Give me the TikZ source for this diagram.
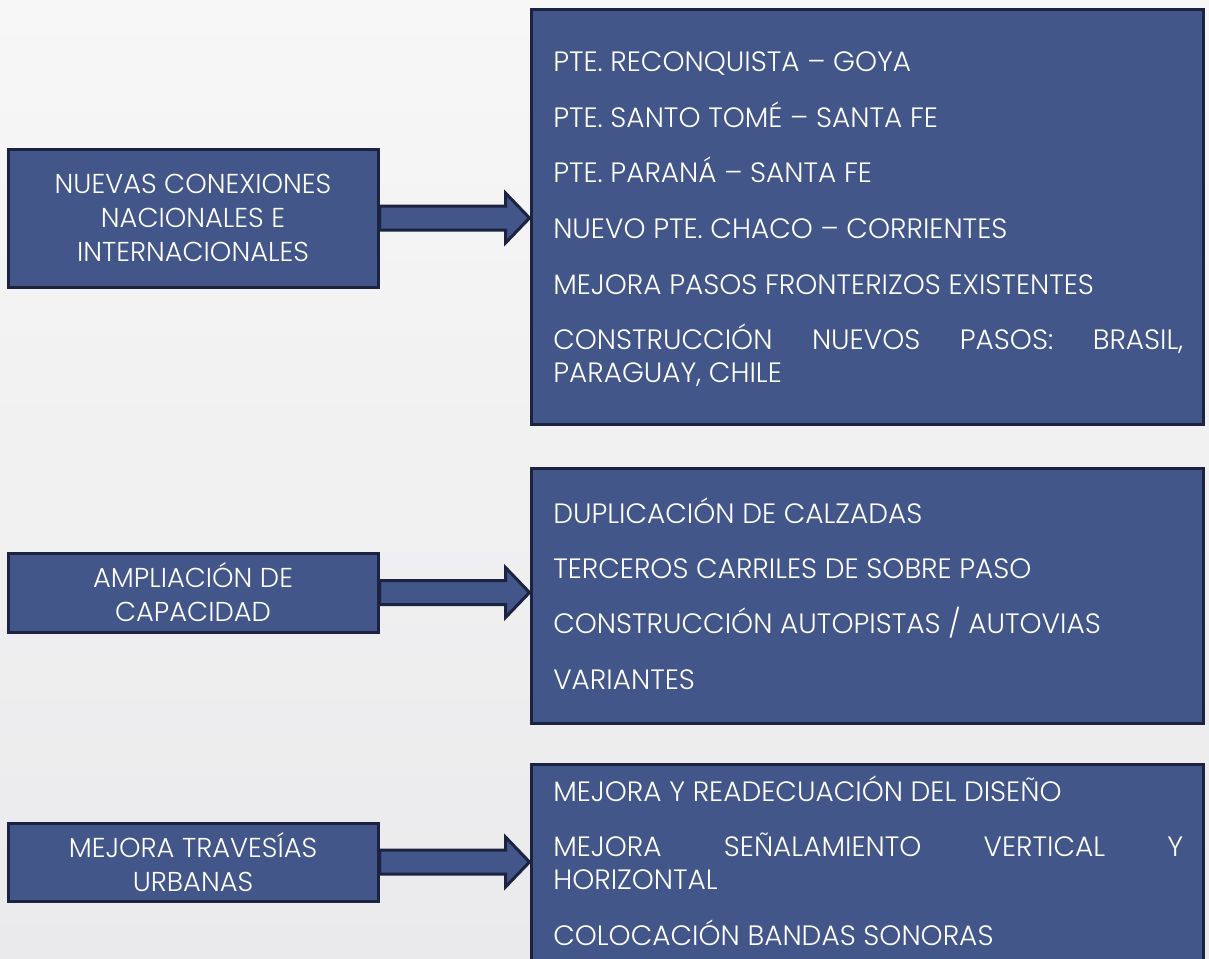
\documentclass[tikz,border=0pt]{standalone}
\usepackage{fontspec}
\IfFontExistsTF{Poppins Light}{\setmainfont{Poppins Light}}{\setmainfont{Poppins}}
\usetikzlibrary{calc}
\definecolor{boxfill}{HTML}{43568A}
\definecolor{boxline}{HTML}{1B2340}
\definecolor{bgtop}{HTML}{F7F7F7}
\definecolor{bgbot}{HTML}{EAEAEC}
\begin{document}
\begin{tikzpicture}[x=0.75pt,y=-0.75pt,
  bluebox/.style={draw=boxline,fill=boxfill,line width=2.25pt,rectangle,inner sep=0pt,text=white},
  leftbox/.style={bluebox,minimum width=277.5pt,align=center,font=\fontsize{20.5}{25.5}\selectfont},
  rightbox/.style={bluebox,minimum width=504pt},
  itemtext/.style={anchor=base west,text=white,inner sep=0pt,font=\fontsize{21}{25}\selectfont},
  blockarrow/.style={draw=boxline,fill=boxfill,line width=2.25pt,line join=miter}]
\fill[top color=bgtop,bottom color=bgbot] (0,0) rectangle (1209,958);
\useasboundingbox (0,0) rectangle (1209,958);
\begin{scope}
\clip (0,0) rectangle (1209,958);
% left boxes
\node[leftbox,minimum height=103.5pt] (l1) at (193,218) {NUEVAS CONEXIONES\\NACIONALES E\\INTERNACIONALES};
\node[leftbox,minimum height=59.25pt] (l2) at (193,592.5) {AMPLIACIÓN DE\\CAPACIDAD};
\node[leftbox,minimum height=58.5pt] (l3) at (193,862) {MEJORA TRAVESÍAS\\URBANAS};
% right boxes
\node[rightbox,minimum height=311.25pt] (r1) at (867,216.5) {};
\node[rightbox,minimum height=191.25pt] (r2) at (867,595.5) {};
\node[rightbox,minimum height=162pt] (r3) at (867,872) {};
% arrows
\foreach \l/\r in {l1/r1,l2/r2,l3/r3}{
  \draw[blockarrow] ($(\l.east)+(0,-12)$) -- ($(\r.west |- \l.east)+(-24,-12)$)
    -- ($(\r.west |- \l.east)+(-24,-25)$) -- (\r.west |- \l.east)
    -- ($(\r.west |- \l.east)+(-24,25)$) -- ($(\r.west |- \l.east)+(-24,12)$)
    -- ($(\l.east)+(0,12)$) -- cycle;
}
% items box 1
\node[itemtext] (a1) at (553,71) {PTE. RECONQUISTA – GOYA};
\node[itemtext] (a2) at (553,127) {PTE. SANTO TOMÉ – SANTA FE};
\node[itemtext] (a3) at (553,182) {PTE. PARANÁ – SANTA FE};
\node[itemtext] (a4) at (553,238) {NUEVO PTE. CHACO – CORRIENTES};
\node[itemtext] (a5) at (553,294) {MEJORA PASOS FRONTERIZOS EXISTENTES};
\node[itemtext] (a6) at (553,349) {\makebox[472.5pt][s]{CONSTRUCCIÓN NUEVOS PASOS: BRASIL,}};
\node[itemtext] (a6b) at (553,382) {PARAGUAY, CHILE};
% items box 2
\node[itemtext] (b1) at (553,523) {DUPLICACIÓN DE CALZADAS};
\node[itemtext] (b2) at (553,578) {TERCEROS CARRILES DE SOBRE PASO};
\node[itemtext] (b3) at (553,633) {CONSTRUCCIÓN AUTOPISTAS / AUTOVIAS};
\node[itemtext] (b4) at (553,689) {VARIANTES};
% items box 3
\node[itemtext] (c1) at (553,801) {MEJORA Y READECUACIÓN DEL DISEÑO};
\node[itemtext] (c2) at (553,856) {\makebox[472.5pt][s]{MEJORA SEÑALAMIENTO VERTICAL Y}};
\node[itemtext] (c2b) at (553,889) {HORIZONTAL};
\node[itemtext] (c3) at (553,945) {COLOCACIÓN BANDAS SONORAS};
\end{scope}
\end{tikzpicture}
\end{document}
